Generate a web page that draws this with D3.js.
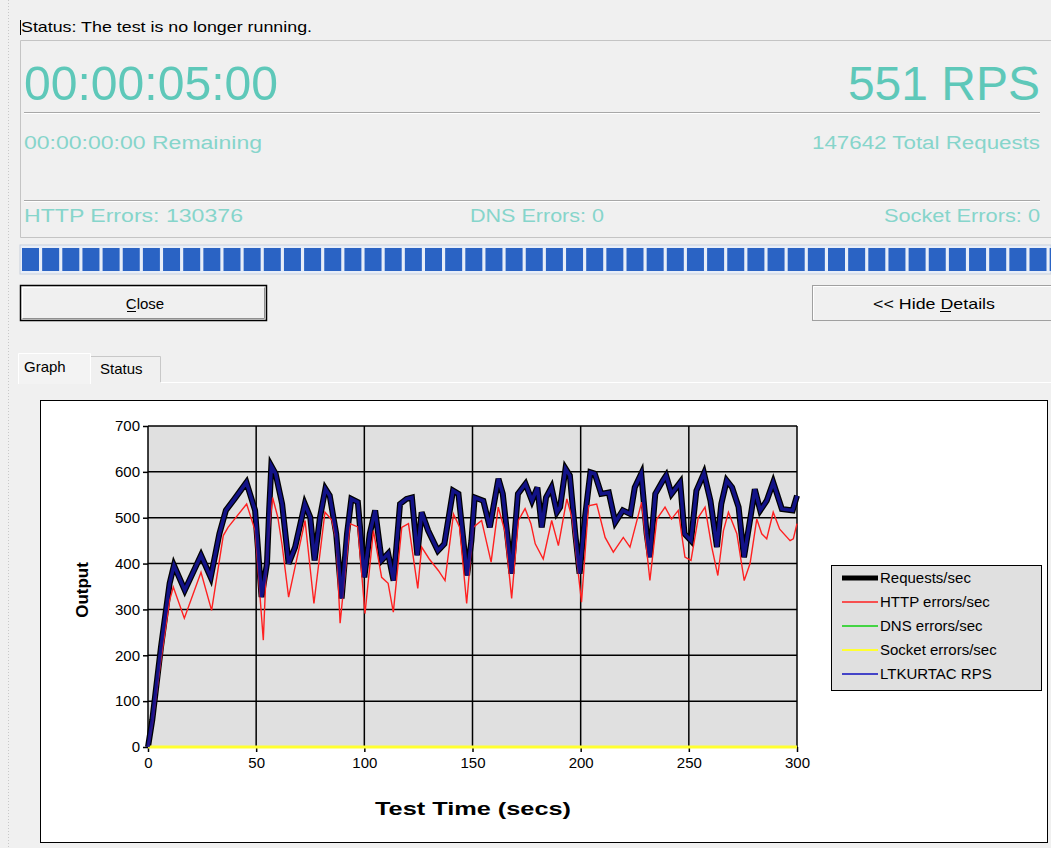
<!DOCTYPE html>
<html><head><meta charset="utf-8">
<script src="https://cdn.jsdelivr.net/npm/d3@7"></script>
<style>
html,body{margin:0;padding:0;background:#f0f0f0;}
svg{display:block;font-family:"Liberation Sans",Arial,sans-serif;}
</style></head>
<body>
<svg id="c" width="1051" height="848"></svg>
<script>
// ---------- data ----------
const rpsTimes = [0,2,6,10,12,17,24.5,29,33,36,40,45.5,49.5,52.5,55,56,57,59,62,65,68,72.5,75,77,79.5,82,84,87,89.5,92,94,97,100,102.5,105,108,111,113.5,116.5,119.5,122,124.5,126.5,129.5,134,137,141,143.5,147.5,149.5,151,155,158,162,164,168,171,174.5,177.5,180,182,184,186.5,189,190.5,193,195,197.5,199.5,202,204.5,206.5,209.5,213,216,219.5,223,225,228,230.5,232,234.5,238,239.5,242,246,248,251,253.5,257,260,263,265,267.5,270,273,275.5,278.5,280.5,283,286,289,293,298,300];
const requestsPerSec = [0,60,218,357,396,342,418,370,465,516,541,577,516,327,400,516,613,596,530,400,436,530,501,407,501,563,548,465,324,465,541,534,370,465,516,407,422,363,530,541,544,418,512,472,428,443,559,552,374,450,544,537,479,585,552,378,552,574,537,566,479,544,566,512,523,607,592,465,378,501,599,596,552,555,490,516,508,566,596,465,414,552,581,592,552,577,465,450,559,597,537,436,530,581,566,523,414,501,562,516,537,577,519,516,548];
const ltkurtacRps = requestsPerSec;

const httpTimes = [0,2,6,10,11.7,16.8,24.5,29.4,34.8,37,45.6,49.5,53.3,55,57.6,60,62,65,72.6,76.7,81.8,85,87,88.8,93.4,97,100.3,104.2,108,111,113.4,117.3,120.4,124.7,126.5,130,134.2,137.3,141.2,144,147.3,150.3,154.2,158.6,161.9,165,168.1,171.2,174.3,177,179,182.7,186.6,189.7,193.6,196,200.4,203.6,207.4,211.3,215.1,219.7,222.8,228.2,232,235.2,239,242,245.1,248.2,251,254.4,257.5,260.6,263.4,266,268.3,272.2,275.6,278.3,281.4,283.7,286,289,292,296.8,298.3,300];
const httpErrors = [0,50,190,320,349,281,381,298,461,479,530,472,233,428,544,501,440,327,494,313,512,495,450,270,487,480,291,472,370,357,294,479,487,346,436,410,385,363,508,480,313,479,494,403,523,470,324,494,520,487,443,410,494,439,541,500,316,526,530,457,425,457,436,534,363,497,523,497,516,414,407,501,523,436,374,472,512,465,363,400,497,465,454,512,475,450,454,487];

const zeroTimes = [0,300];
const dnsErrors = [0,0];
const socketErrors = [0,0];

const xTicks = [0,50,100,150,200,250,300];
const yTicks = [0,100,200,300,400,500,600,700];

const seriesNames = ["Requests/sec","HTTP errors/sec","DNS errors/sec","Socket errors/sec","LTKURTAC RPS"];
const seriesColors = ["#000000","#ff2020","#10d010","#ffff30","#1010c0"];

// ---------- drawing ----------
const svg = d3.select("#c");
const teal = "#5ec8b9", tealLight = "#86d5cb";

// window edge
svg.append("line").attr("x1",8.5).attr("x2",8.5).attr("y1",0).attr("y2",848).attr("stroke","#c8c8c8").attr("stroke-dasharray","1,2");

// status line
svg.append("text").attr("x",21).attr("y",32).attr("font-size",15).attr("fill","#000")
  .attr("textLength",291).attr("lengthAdjust","spacingAndGlyphs").text("Status: The test is no longer running.");
svg.append("line").attr("x1",20.5).attr("x2",20.5).attr("y1",20).attr("y2",35).attr("stroke","#000");

// panel
svg.append("path").attr("d","M1051,40.5H20.5V237.5H1051").attr("fill","none").attr("stroke","#c4c4c4");
svg.append("text").attr("x",24).attr("y",100).attr("font-size",48).attr("fill",teal)
  .attr("textLength",254).attr("lengthAdjust","spacingAndGlyphs").text("00:00:05:00");
svg.append("text").attr("x",1040).attr("y",100).attr("font-size",48).attr("fill",teal).attr("text-anchor","end")
  .text("551 RPS");
function etched(y){
  svg.append("line").attr("x1",24).attr("x2",1040).attr("y1",y+0.5).attr("y2",y+0.5).attr("stroke","#a8a8a8");
  svg.append("line").attr("x1",24).attr("x2",1040).attr("y1",y+1.5).attr("y2",y+1.5).attr("stroke","#ffffff");
}
etched(112); etched(200);
svg.append("text").attr("x",24).attr("y",149).attr("font-size",18).attr("fill",tealLight)
  .attr("textLength",238).attr("lengthAdjust","spacingAndGlyphs").text("00:00:00:00 Remaining");
svg.append("text").attr("x",1040).attr("y",149).attr("font-size",18).attr("fill",tealLight).attr("text-anchor","end")
  .attr("textLength",228).attr("lengthAdjust","spacingAndGlyphs").text("147642 Total Requests");
svg.append("text").attr("x",24).attr("y",222).attr("font-size",18).attr("fill",tealLight)
  .attr("textLength",219).attr("lengthAdjust","spacingAndGlyphs").text("HTTP Errors: 130376");
svg.append("text").attr("x",470).attr("y",222).attr("font-size",18).attr("fill",tealLight)
  .attr("textLength",134).attr("lengthAdjust","spacingAndGlyphs").text("DNS Errors: 0");
svg.append("text").attr("x",1040).attr("y",222).attr("font-size",18).attr("fill",tealLight).attr("text-anchor","end")
  .attr("textLength",156).attr("lengthAdjust","spacingAndGlyphs").text("Socket Errors: 0");

// progress bar
svg.append("rect").attr("x",20).attr("y",245).attr("width",1031).attr("height",29).attr("fill","#e8eef8").attr("stroke","#c8d0dc");
const segW = 20.15;
for(let i=0;i<52;i++){
  const sx = 22 + i*segW;
  if (sx>1051) break;
  svg.append("rect").attr("x",sx).attr("y",248).attr("width",Math.min(17,1051-sx)).attr("height",23).attr("fill","#2a63c4");
}

// buttons
svg.append("rect").attr("x",20.5).attr("y",285.5).attr("width",246).attr("height",35).attr("fill","#f0f0f0").attr("stroke","#000").attr("stroke-width",1.5);
svg.append("path").attr("d","M22.5,318.5V287.5H264.5").attr("fill","none").attr("stroke","#fff");
svg.append("path").attr("d","M22.5,318.5H264.5V287.5").attr("fill","none").attr("stroke","#909090");
svg.append("text").attr("x",145).attr("y",309).attr("font-size",15).attr("text-anchor","middle").text("Close");
svg.append("line").attr("x1",127).attr("x2",136).attr("y1",311.5).attr("y2",311.5).attr("stroke","#000");
svg.append("rect").attr("x",812.5).attr("y",285.5).attr("width",240).attr("height",35).attr("fill","#f0f0f0").attr("stroke","#a0a0a0");
svg.append("path").attr("d","M813.5,319.5V286.5H1051").attr("fill","none").attr("stroke","#fff");
svg.append("text").attr("x",934).attr("y",309).attr("font-size",15).attr("text-anchor","middle")
  .attr("textLength",122).attr("lengthAdjust","spacingAndGlyphs").text("<< Hide Details");
svg.append("line").attr("x1",940).attr("x2",951).attr("y1",311.5).attr("y2",311.5).attr("stroke","#000");

// tabs
svg.append("path").attr("d","M90.5,382.5V356.5H160.5V382.5").attr("fill","#f0f0f0").attr("stroke","#c8c8c8");
svg.append("path").attr("d","M160.5,382.5H1051").attr("fill","none").attr("stroke","#ffffff");
svg.append("path").attr("d","M18.5,384V353.5H90.5V384").attr("fill","#f3f3f3").attr("stroke","#ffffff");
svg.append("text").attr("x",24).attr("y",372).attr("font-size",15).text("Graph");
svg.append("text").attr("x",100).attr("y",374).attr("font-size",15).text("Status");

// chart frame
svg.append("rect").attr("x",40.5).attr("y",400.5).attr("width",1007).attr("height",442).attr("fill","#ffffff").attr("stroke","#000");

// plot
const x = d3.scaleLinear().domain([0,300]).range([148,797]);
const y = d3.scaleLinear().domain([0,700]).range([747,426]);
const g = svg.append("g");
g.append("rect").attr("x",x(0)).attr("y",y(700)).attr("width",x(300)-x(0)).attr("height",y(0)-y(700)).attr("fill","#e0e0e0");
g.selectAll("line.hg").data(yTicks).join("line").attr("class","hg")
  .attr("x1",x(0)).attr("x2",x(300)).attr("y1",d=>y(d)).attr("y2",d=>y(d)).attr("stroke","#000").attr("stroke-width",1.5);
g.selectAll("line.vg").data(xTicks).join("line").attr("class","vg")
  .attr("y1",y(0)).attr("y2",y(700)).attr("x1",d=>x(d)).attr("x2",d=>x(d)).attr("stroke","#000").attr("stroke-width",1.5);

const ax = g.append("g").attr("transform",`translate(0,${y(0)})`)
  .call(d3.axisBottom(x).tickValues(xTicks).tickSize(5).tickPadding(5).tickFormat(d3.format("d")));
const ay = g.append("g").attr("transform",`translate(${x(0)},0)`)
  .call(d3.axisLeft(y).tickValues(yTicks).tickSize(5).tickPadding(3).tickFormat(d3.format("d")));
[ax,ay].forEach(a=>{
  a.select(".domain").remove();
  a.selectAll("line").attr("stroke","#000").attr("stroke-width",1.5);
  a.selectAll("text").attr("font-size",15).attr("fill","#000").attr("font-family","'Liberation Sans',Arial,sans-serif");
});

const line = (ts)=>d3.line().x((d,i)=>x(ts[i])).y(d=>y(d));
g.append("path").datum(requestsPerSec).attr("d",line(rpsTimes)).attr("fill","none").attr("stroke",seriesColors[0]).attr("stroke-width",6).attr("stroke-linejoin","miter");
g.append("path").datum(httpErrors).attr("d",line(httpTimes)).attr("fill","none").attr("stroke",seriesColors[1]).attr("stroke-width",1.4);
g.append("path").datum(dnsErrors).attr("d",line(zeroTimes)).attr("fill","none").attr("stroke",seriesColors[2]).attr("stroke-width",2);
g.append("path").datum(socketErrors).attr("d",line(zeroTimes)).attr("fill","none").attr("stroke",seriesColors[3]).attr("stroke-width",3);
g.append("path").datum(ltkurtacRps).attr("d",line(rpsTimes)).attr("fill","none").attr("stroke","#141496").attr("stroke-width",3.5).attr("stroke-opacity",0.9);

// axis titles
svg.append("text").attr("transform","translate(88,590) rotate(-90)").attr("text-anchor","middle")
  .attr("font-size",17).attr("font-weight","bold").text("Output");
svg.append("text").attr("x",473).attr("y",815).attr("text-anchor","middle")
  .attr("font-size",19).attr("font-weight","bold").attr("textLength",196).attr("lengthAdjust","spacingAndGlyphs").text("Test Time (secs)");

// legend
const lg = svg.append("g");
lg.append("rect").attr("x",831.5).attr("y",565.5).attr("width",210).attr("height",125).attr("fill","#e0e0e0").attr("stroke","#000");
const lw = [5,1.5,1.5,2,1.5];
seriesNames.forEach((n,i)=>{
  const yy = 578 + i*24;
  lg.append("line").attr("x1",842).attr("x2",878).attr("y1",yy).attr("y2",yy).attr("stroke",seriesColors[i]).attr("stroke-width",lw[i]);
  lg.append("text").attr("x",880).attr("y",yy+5).attr("font-size",15).attr("fill","#000").text(n);
});
</script>
</body></html>
